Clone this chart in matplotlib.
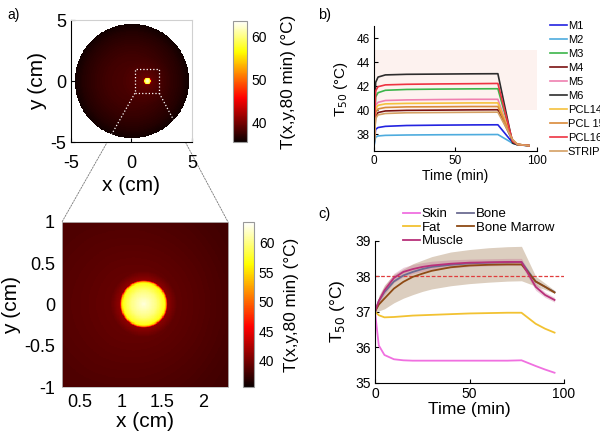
import numpy as np
import matplotlib.pyplot as plt
from matplotlib.patches import Rectangle, Circle, ConnectionPatch

plt.rcParams['font.family'] = ['Liberation Sans', 'DejaVu Sans']
plt.rcParams['axes.unicode_minus'] = False

# ---- panel a: temperature map at 80 min ----
disk_radius = 4.7
spot_x, spot_y = 1.27, 0.0
zoom_x = [0.28, 2.3]
zoom_y = [-1.0, 1.0]
# background temperature against distance from the disk centre (cm, degC)
bg_r = [0.0, 1.0, 2.0, 3.0, 4.0, 4.7]
bg_T = [38.2, 38.1, 37.8, 37.3, 36.6, 35.8]
# extra temperature against distance from the hot spot centre
spot_r = [0.0, 0.15, 0.25, 0.27, 0.29, 0.4, 0.8, 1.2, 2.0]
spot_dT = [24.5, 22.0, 19.0, 15.0, 3.0, 1.2, 0.7, 0.3, 0.0]
t_lo, t_hi = 35.5, 63.5

# ---- panel b: T50 for each applicator ----
time_b = [0, 1, 2.5, 7, 20, 40, 60, 76, 85, 88, 95]
names_b = ['M1', 'M2', 'M3', 'M4', 'M5', 'M6', 'PCL14', 'PCL 15', 'PCL16', 'STRIP']
colors_b = ['#2323e0', '#4eacde', '#3cb54a', '#7a1212', '#ef80b0', '#2d2d2d',
            '#f5c13d', '#d98a3a', '#ee3342', '#d4a064']
m1 = [37.0, 38.4, 38.55, 38.65, 38.72, 38.75, 38.77, 38.78, 37.3, 37.12, 37.05]
m2 = [37.0, 37.75, 37.85, 37.9, 37.93, 37.95, 37.96, 37.97, 37.25, 37.12, 37.05]
m3 = [37.0, 41.1, 41.45, 41.65, 41.72, 41.75, 41.77, 41.78, 37.4, 37.15, 37.05]
m4 = [37.0, 39.5, 39.8, 39.93, 39.98, 40.0, 40.02, 40.03, 37.45, 37.15, 37.05]
m5 = [37.0, 40.4, 40.65, 40.8, 40.85, 40.88, 40.9, 40.9, 37.45, 37.15, 37.05]
m6 = [37.0, 42.3, 42.75, 42.93, 42.98, 43.0, 43.02, 43.03, 37.25, 37.12, 37.05]
pcl14 = [37.0, 40.1, 40.4, 40.52, 40.56, 40.58, 40.6, 40.6, 37.5, 37.15, 37.05]
pcl15 = [37.0, 39.8, 40.1, 40.22, 40.27, 40.28, 40.3, 40.3, 37.55, 37.15, 37.05]
pcl16 = [37.0, 41.6, 41.95, 42.1, 42.15, 42.18, 42.2, 42.22, 37.4, 37.15, 37.05]
strip = [37.0, 39.3, 39.6, 39.72, 39.78, 39.8, 39.82, 39.83, 37.55, 37.15, 37.05]
series_b = [m1, m2, m3, m4, m5, m6, pcl14, pcl15, pcl16, strip]
target_band = [40, 45]

# ---- panel c: T50 per tissue ----
time_c = [0, 2, 5, 10, 15, 20, 25, 30, 40, 50, 60, 70, 77.5, 85, 90, 95]
skin = [37.0, 36.05, 35.78, 35.66, 35.63, 35.62, 35.62, 35.62, 35.62, 35.62,
        35.62, 35.62, 35.63, 35.47, 35.37, 35.28]
fat = [37.0, 36.9, 36.84, 36.85, 36.87, 36.89, 36.9, 36.91, 36.93, 36.95,
       36.96, 36.97, 36.97, 36.66, 36.52, 36.41]
bone = [37.0, 37.3, 37.55, 37.85, 38.02, 38.12, 38.2, 38.26, 38.32, 38.36,
        38.38, 38.39, 38.4, 37.85, 37.7, 37.55]
marrow = [37.0, 37.2, 37.37, 37.65, 37.84, 37.98, 38.07, 38.15, 38.25, 38.3,
          38.32, 38.33, 38.33, 37.85, 37.7, 37.54]
muscle = [37.0, 37.3, 37.6, 37.95, 38.12, 38.2, 38.26, 38.3, 38.35, 38.38,
          38.39, 38.4, 38.4, 37.7, 37.47, 37.33]
band_hi = [37.0, 37.45, 37.75, 38.05, 38.2, 38.35, 38.45, 38.55, 38.68, 38.75,
           38.8, 38.83, 38.84, 38.0, 37.8, 37.6]
band_lo = [37.0, 37.02, 37.08, 37.25, 37.38, 37.48, 37.57, 37.64, 37.73, 37.79,
           37.83, 37.86, 37.87, 37.72, 37.62, 37.52]
muscle_hi = [37.0, 37.4, 37.72, 38.08, 38.25, 38.33, 38.38, 38.42, 38.46, 38.48,
             38.49, 38.5, 38.5, 37.8, 37.55, 37.4]
muscle_lo = [37.0, 37.2, 37.48, 37.82, 37.98, 38.07, 38.13, 38.18, 38.23, 38.27,
             38.29, 38.3, 38.3, 37.6, 37.4, 37.27]
fever_line = 38.0


def field(x, y):
    X, Y = np.meshgrid(x, y)
    rd = np.hypot(X, Y)
    rs = np.hypot(X - spot_x, Y - spot_y)
    T = np.interp(rd, bg_r, bg_T) + np.interp(rs, spot_r, spot_dT)
    return np.ma.masked_where(rd > disk_radius, T)


def main():
    fig = plt.figure(figsize=(6.0, 4.37), dpi=100)

    # top map
    ax1 = fig.add_axes([0.1183, 0.675, 0.2017, 0.279])
    xs = np.linspace(-5, 5, 401)
    im1 = ax1.imshow(field(xs, xs), origin='lower', extent=[-5, 5, -5, 5],
                     cmap='hot', vmin=t_lo, vmax=t_hi, aspect='auto',
                     interpolation='nearest')
    ax1.set_xticks([-5, 0, 5])
    ax1.set_yticks([-5, 0, 5])
    ax1.tick_params(direction='in', labelsize=13, length=3)
    ax1.tick_params(axis='x', pad=9)
    ax1.spines['top'].set_color('#d0d0d0')
    ax1.spines['right'].set_color('#d0d0d0')
    ax1.set_xlabel('x (cm)', fontsize=15, labelpad=3)
    ax1.set_ylabel('y (cm)', fontsize=15, labelpad=2)
    sq = Rectangle((zoom_x[0], zoom_y[0]), zoom_x[1] - zoom_x[0],
                   zoom_y[1] - zoom_y[0], fill=False, ec='white', ls=':', lw=0.9)
    ax1.add_patch(sq)
    disk = Circle((0, 0), disk_radius, transform=ax1.transData, visible=False)
    ax1.add_patch(disk)

    cax1 = fig.add_axes([0.388, 0.675, 0.0233, 0.277])
    cb1 = fig.colorbar(im1, cax=cax1, ticks=[40, 50, 60])
    cb1.ax.tick_params(labelsize=10, direction='in', length=0)
    cb1.outline.set_edgecolor('#999999')
    cb1.set_label('T(x,y,80 min) (°C)', fontsize=12.3, labelpad=10)

    # zoomed map
    ax2 = fig.add_axes([0.1033, 0.1144, 0.2767, 0.3776])
    xz = np.linspace(zoom_x[0], zoom_x[1], 301)
    yz = np.linspace(zoom_y[0], zoom_y[1], 301)
    im2 = ax2.imshow(field(xz, yz), origin='lower',
                     extent=[zoom_x[0], zoom_x[1], zoom_y[0], zoom_y[1]],
                     cmap='hot', vmin=t_lo, vmax=t_hi, aspect='auto',
                     interpolation='nearest')
    ax2.set_xticks([0.5, 1, 1.5, 2])
    ax2.set_xticklabels(['0.5', '1', '1.5', '2'])
    ax2.set_yticks([-1, -0.5, 0, 0.5, 1])
    ax2.set_yticklabels(['-1', '-0.5', '0', '0.5', '1'])
    ax2.tick_params(direction='in', labelsize=13, length=0, pad=5)
    for s in ax2.spines.values():
        s.set_color('#bbbbbb')
        s.set_linewidth(0.6)
    ax2.set_xlabel('x (cm)', fontsize=15, labelpad=1)
    ax2.set_ylabel('y (cm)', fontsize=15, labelpad=2)

    cax2 = fig.add_axes([0.405, 0.1144, 0.0183, 0.3776])
    cb2 = fig.colorbar(im2, cax=cax2, ticks=[40, 45, 50, 55, 60])
    cb2.ax.tick_params(labelsize=10, direction='in', length=0)
    cb2.outline.set_edgecolor('#999999')
    cb2.set_label('T(x,y,80 min) (°C)', fontsize=12.3, labelpad=7)

    # connector lines between the square and the zoomed map
    for cx, fx in [(zoom_x[0], 0), (zoom_x[1], 1)]:
        con = ConnectionPatch(xyA=(cx, zoom_y[0]), coordsA=ax1.transData,
                              xyB=(fx, 1), coordsB=ax2.transAxes,
                              color='#777777', lw=0.6, ls=(0, (2, 1.5)),
                              zorder=-1)
        fig.add_artist(con)
        # white dotted part over the disk
        p0 = ax1.transData.transform((cx, zoom_y[0]))
        p1 = ax2.transAxes.transform((fx, 1))
        q = ax1.transData.inverted().transform(np.vstack([p0, p1]))
        ln, = ax1.plot(q[:, 0], q[:, 1], color='white', ls=':', lw=0.9)
        ln.set_clip_path(disk)
    ax1.set_xlim(-5, 5)
    ax1.set_ylim(-5, 5)

    # panel b
    ax3 = fig.add_axes([0.6233, 0.6545, 0.2717, 0.286])
    ax3.axhspan(target_band[0], target_band[1], xmin=0, xmax=1,
                color='#fdf2ef', zorder=0, lw=0)
    for name, col, vals in zip(names_b, colors_b, series_b):
        ax3.plot(time_b, vals, color=col, lw=1.2, label=name)
    ax3.set_xlim(0, 100)
    ax3.set_ylim(36.6, 47)
    ax3.set_xticks([0, 50, 100])
    ax3.set_yticks([38, 40, 42, 44, 46])
    ax3.spines['top'].set_visible(False)
    ax3.spines['right'].set_visible(False)
    ax3.tick_params(direction='in', labelsize=8.5, length=3, pad=3)
    ax3.set_xlabel('Time (min)', fontsize=10, labelpad=1)
    ax3.set_ylabel('T$_{50}$ (°C)', fontsize=11, labelpad=5)
    ax3.legend(loc='upper left', bbox_to_anchor=(1.08, 1.04), frameon=False,
               fontsize=8, handlelength=1.5, handletextpad=0.1,
               labelspacing=0.36, borderaxespad=0, borderpad=0)

    # panel c
    ax4 = fig.add_axes([0.625, 0.1243, 0.315, 0.325])
    ax4.fill_between(time_c, band_lo, band_hi, color='#a8855f', alpha=0.4, lw=0)
    ax4.fill_between(time_c, muscle_lo, muscle_hi, color='#c0608a', alpha=0.3, lw=0)
    ax4.axhline(fever_line, color='#e03c3c', ls=(0, (3, 1.5)), lw=0.9)
    h_skin, = ax4.plot(time_c, skin, color='#f070e0', lw=1.3, label='Skin')
    h_fat, = ax4.plot(time_c, fat, color='#f2c232', lw=1.3, label='Fat')
    h_bone, = ax4.plot(time_c, bone, color='#6c6c92', lw=1.3, label='Bone')
    h_marrow, = ax4.plot(time_c, marrow, color='#8e4a14', lw=1.3,
                         label='Bone Marrow')
    h_muscle, = ax4.plot(time_c, muscle, color='#b8307a', lw=1.3, label='Muscle')
    ax4.set_xlim(0, 100)
    ax4.set_ylim(35, 39)
    ax4.set_xticks([0, 50, 100])
    ax4.set_yticks([35, 36, 37, 38, 39])
    ax4.spines['top'].set_visible(False)
    ax4.spines['right'].set_visible(False)
    ax4.tick_params(direction='in', labelsize=10, length=3, pad=3)
    ax4.set_xlabel('Time (min)', fontsize=12.5, labelpad=1)
    ax4.set_ylabel('T$_{50}$ (°C)', fontsize=12.5, labelpad=6)
    fig.legend(handles=[h_skin, h_fat, h_muscle, h_bone, h_marrow],
               loc='upper left', bbox_to_anchor=(0.672, 0.524), frameon=False,
               fontsize=9.5, ncol=2, handlelength=1.3, handletextpad=0.1,
               labelspacing=0.1, columnspacing=-0.5, borderaxespad=0,
               borderpad=0)

    fig.text(0.013, 0.965, 'a)', fontsize=10, va='center')
    fig.text(0.53, 0.965, 'b)', fontsize=10.5, va='center')
    fig.text(0.53, 0.51, 'c)', fontsize=10.5, va='center')

    fig.savefig('out.png', dpi=100)
    plt.close(fig)


if __name__ == "__main__":
    main()
